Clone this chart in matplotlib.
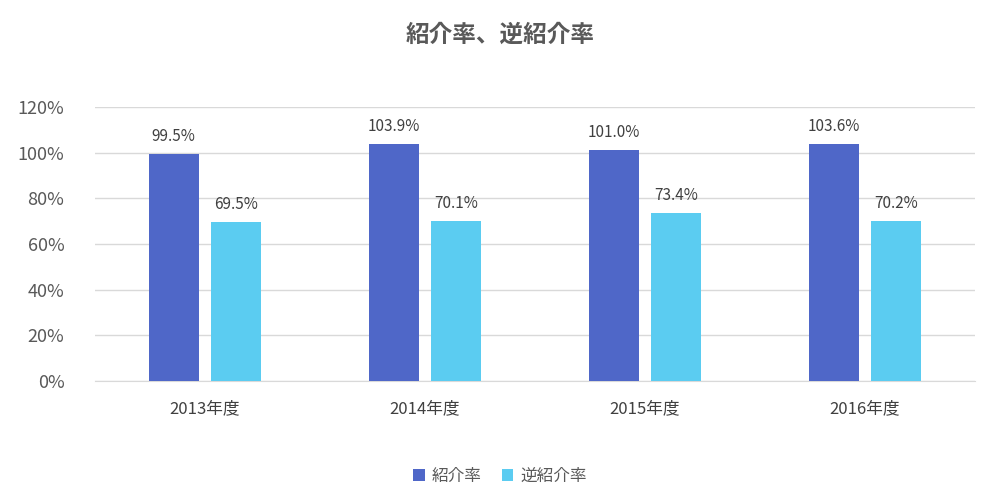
import numpy as np
import matplotlib.pyplot as plt

plt.rcParams['font.family'] = ['Noto Sans CJK JP']

years = ['2013年度', '2014年度', '2015年度', '2016年度']
referral = [99.5, 103.9, 101.0, 103.6]
reverse = [69.5, 70.1, 73.4, 70.2]

fig = plt.figure(figsize=(10, 5), dpi=100)
ax = fig.add_axes([0.095, 0.238, 0.88, 0.548])

x = np.arange(len(years))
w = 0.225
off = 0.142
b1 = ax.bar(x - off, referral, w, color='#4F67C8', label='紹介率', zorder=3)
b2 = ax.bar(x + off, reverse, w, color='#5BCCF1', label='逆紹介率', zorder=3)

for bars, vals in ((b1, referral), (b2, reverse)):
    for b, v in zip(bars, vals):
        ax.text(b.get_x() + b.get_width() / 2, v + 4, f'{v:.1f}%',
                ha='center', va='bottom', fontsize=11, color='#404040')

ax.set_xlim(-0.5, 3.5)
ax.set_ylim(0, 120)
ax.set_yticks(range(0, 121, 20))
ax.set_yticklabels([f'{t}%' for t in range(0, 121, 20)], fontsize=13, color='#595959')
ax.set_xticks(x)
ax.set_xticklabels(years, fontsize=12, color='#404040')
ax.grid(axis='y', color='#D9D9D9', linewidth=1, zorder=0)
for s in ['top', 'right', 'left']:
    ax.spines[s].set_visible(False)
ax.spines['bottom'].set_color('#D9D9D9')
ax.tick_params(length=0, pad=14)
ax.tick_params(axis='y', pad=22)

fig.suptitle('紹介率、逆紹介率', y=0.955, fontsize=17, fontweight='bold', color='#595959')
fig.legend(loc='lower center', bbox_to_anchor=(0.5, 0.0), ncol=2, frameon=False,
           fontsize=12, handlelength=0.7, handleheight=0.7, columnspacing=1.2,
           handletextpad=0.4, labelcolor='#595959')

fig.savefig('out.png')
